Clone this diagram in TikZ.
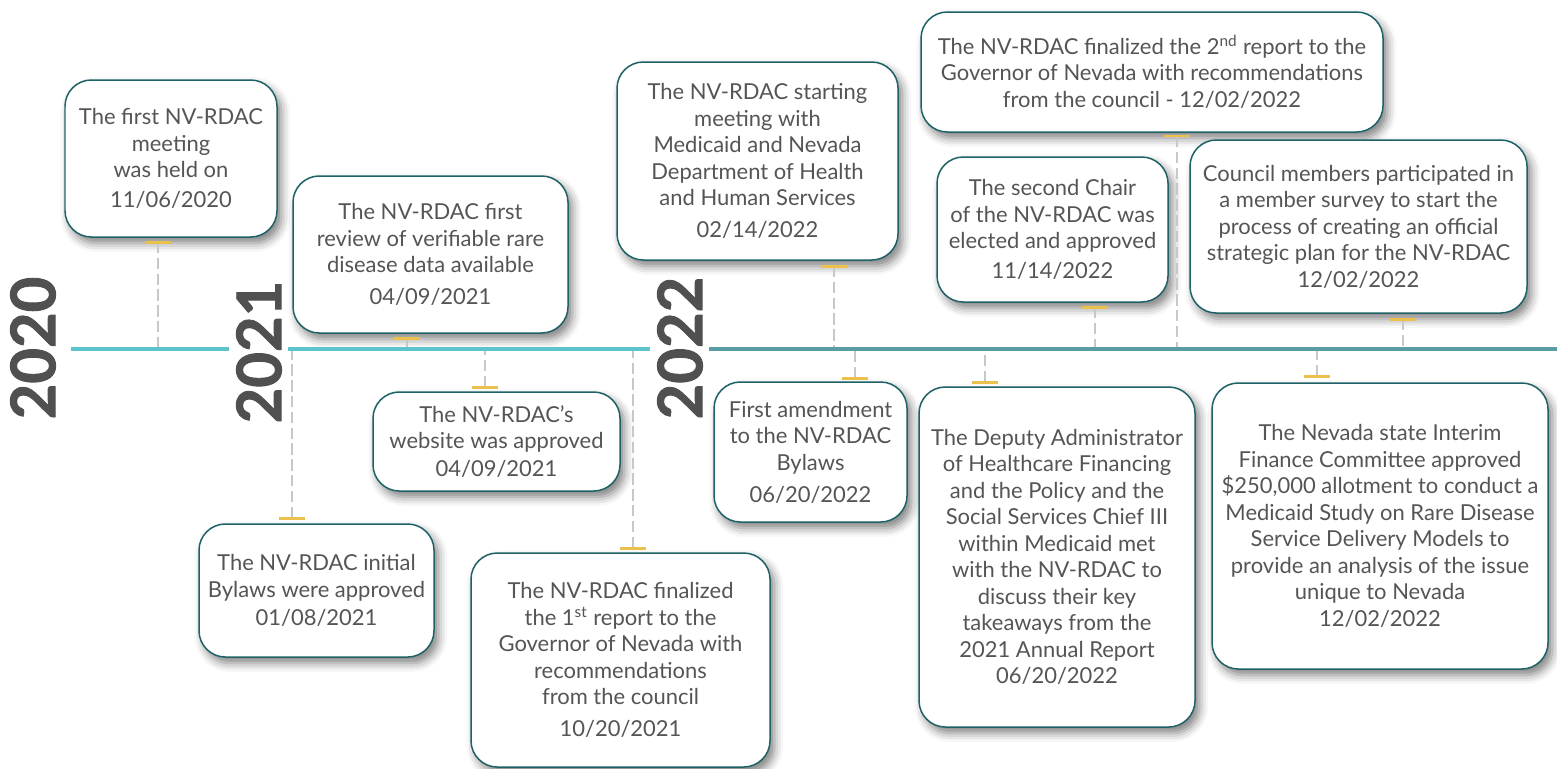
\documentclass[tikz,border=0pt]{standalone}
\usepackage{fontspec}
\setmainfont{Lato}
\newfontfamily\yearfont[BoldFeatures={FakeBold=1.5}]{Lato}
\usetikzlibrary{shadows.blur}
\definecolor{boxline}{HTML}{1E6166}
\definecolor{textgray}{HTML}{555555}
\definecolor{yeargray}{HTML}{505050}
\definecolor{stemgray}{HTML}{C8C8C8}
\definecolor{tickgold}{HTML}{EBC04D}
\definecolor{lineaqua}{HTML}{5CC4CC}
\definecolor{lineteal}{HTML}{5A9CA4}
\begin{document}
\begin{tikzpicture}[x=0.02cm, y=-0.02cm,
    main/.style = {draw=boxline, line width=0.85pt, fill=white, rounded corners=15pt,
      align=center, text=textgray, inner sep=0pt,
      font=\fontsize{12.5pt}{15.1pt}\selectfont,
      blur shadow={shadow xshift=2.5pt, shadow yshift=-3.5pt, shadow blur radius=5pt, shadow opacity=50}},
    boxsize/.style 2 args = {minimum width=#1*0.02cm, minimum height=#2*0.02cm},
    year/.style = {rotate=90, text=yeargray, font=\fontsize{35pt}{35pt}\selectfont\yearfont\bfseries},
    stem/.style = {draw=stemgray, line width=1.1pt, dash pattern=on 6.5pt off 2.5pt},
    tick/.style = {draw=tickgold, line width=1.7pt}]
  \useasboundingbox (0,0) rectangle (1557,768);

  % events
  \node[main, boxsize={212}{157}] (1) at (171,158.5) {The first NV-RDAC\\ meeting\\ was held on\\[2pt] 11/06/2020};
  \node[main, boxsize={275}{157}] (2) at (430.5,254.5) {The NV-RDAC first\\ review of verifiable rare\\ disease data available\\[3pt] 04/09/2021};
  \node[main, boxsize={247}{99}] (3) at (496.5,441.5) {The NV-RDAC’s\\ website was approved\\[1pt] 04/09/2021};
  \node[main, boxsize={235}{133}] (4) at (316.5,590.5) {The NV-RDAC initial\\ Bylaws were approved\\[1pt] 01/08/2021};
  \node[main, boxsize={299}{214}] (5) at (620.5,660) {The NV-RDAC finalized\\ the 1\textsuperscript{st} report to the\\ Governor of Nevada with\\ recommendations\\ from the council\\[3pt] 10/20/2021};
  \node[main, boxsize={281}{198}] (6) at (757.5,161) {The NV-RDAC starting\\ meeting with\\ Medicaid and Nevada\\ Department of Health\\ and Human Services\\[3pt] 02/14/2022};
  \node[main, boxsize={462}{120}] (7) at (1152,72) {The NV-RDAC finalized the 2\textsuperscript{nd} report to the\\ Governor of Nevada with recommendations\\ from the council - 12/02/2022};
  \node[main, boxsize={231}{145}] (8) at (1052.5,229.5) {The second Chair\\ of the NV-RDAC was\\ elected and approved\\[2pt] 11/14/2022};
  \node[main, boxsize={337}{173}] (9) at (1358.5,226.5) {Council members participated in\\ a member survey to start the\\ process of creating an official\\ strategic plan for the NV-RDAC\\ 12/02/2022};
  \node[main, boxsize={193}{140}] (10) at (810.5,452) {First amendment\\ to the NV-RDAC\\ Bylaws\\[3pt] 06/20/2022};
  \node[main, boxsize={276}{340}] (11) at (1057,557) {The Deputy Administrator\\ of Healthcare Financing\\ and the Policy and the\\ Social Services Chief III\\ within Medicaid met\\ with the NV-RDAC to\\ discuss their key\\ takeaways from the\\ 2021 Annual Report\\ 06/20/2022};
  \node[main, boxsize={336}{286}] (12) at (1380,526) {The Nevada state Interim\\ Finance Committee approved\\ \$250,000 allotment to conduct a\\ Medicaid Study on Rare Disease\\ Service Delivery Models to\\ provide an analysis of the issue\\ unique to Nevada\\ 12/02/2022};

  % stems
  \foreach \n/\x/\y in {1/158/242, 2/407/338, 3/485/387, 4/292/518, 5/633/548, 6/834/266,
      7/1177/136, 8/1095/307, 9/1403/319, 10/855/378, 11/985/382, 12/1317/376}{
    \coordinate (t\n) at (\x,\y);
    \coordinate (p\n) at (\x,349);
    \draw[stem] (t\n) -- (p\n);
  }

  % timeline
  \coordinate (a0) at (71,349);   \coordinate (a1) at (229,349);
  \coordinate (b0) at (288,349);  \coordinate (b1) at (650,349);
  \coordinate (c0) at (709,349);  \coordinate (c1) at (1557,349);
  \draw[lineaqua, line width=2.8pt] (a0) -- (a1);
  \draw[lineaqua, line width=2.8pt] (b0) -- (b1);
  \draw[lineteal, line width=2.8pt] (c0) -- (c1);

  \foreach \n in {1,...,12}
    \draw[tick] ([xshift=-7.6pt]t\n) -- ([xshift=7.6pt]t\n);

  % years
  \node[year] (y20) at (33,348) {2020};
  \node[year] (y21) at (259,352) {2021};
  \node[year] (y22) at (680,348) {2022};
\end{tikzpicture}
\end{document}
